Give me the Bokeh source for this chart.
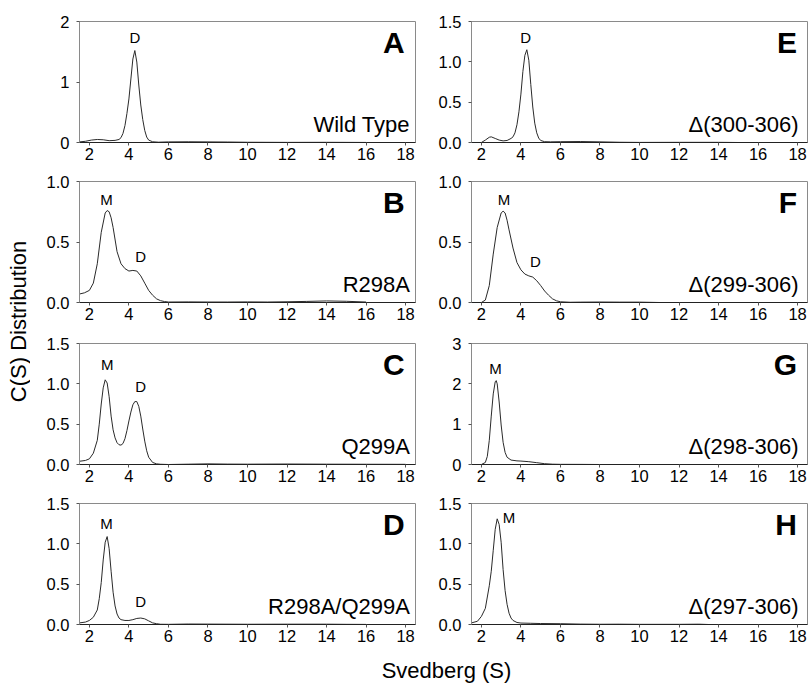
from bokeh.plotting import figure
from bokeh.models import Range1d, FixedTicker, Label
from bokeh.layouts import row, column
from bokeh.embed import file_html
from bokeh.resources import INLINE
from bokeh.core.properties import value

FONT = "Liberation Sans"

# ---------------- data ----------------
x_ticks = [2, 4, 6, 8, 10, 12, 14, 16, 18]

A_s = [1.5,1.8,2.1,2.4,2.7,3.0,3.3,3.5,3.6,3.7,3.8,3.9,4.0,4.1,4.2,4.3,4.4,4.5,4.6,4.7,4.8,4.9,5.0,5.2,5.5,6.0,7.0,8.0,9.0,10.0,12.0,14.0,16.0]
A_c = [0.01,0.02,0.04,0.05,0.045,0.03,0.035,0.05,0.08,0.15,0.28,0.48,0.72,1.05,1.38,1.52,1.33,0.95,0.62,0.38,0.20,0.09,0.04,0.012,0.005,0.01,0.012,0.01,0.008,0.004,0.002,0.003,0.001]

B_s = [1.5,1.75,2.0,2.2,2.4,2.6,2.8,2.9,3.0,3.1,3.2,3.4,3.6,3.8,4.0,4.2,4.4,4.6,4.8,5.0,5.2,5.4,5.6,5.8,6.0,7.0,8.0,9.0,10.0,11.0,12.0,13.0,14.0,15.0,16.0]
B_c = [0.07,0.08,0.10,0.16,0.32,0.58,0.74,0.76,0.75,0.70,0.62,0.42,0.32,0.28,0.26,0.265,0.26,0.22,0.16,0.10,0.06,0.03,0.015,0.008,0.004,0.005,0.004,0.004,0.005,0.004,0.006,0.009,0.013,0.01,0.004]

C_s = [1.5,1.8,2.0,2.2,2.4,2.5,2.6,2.7,2.8,2.9,3.0,3.1,3.2,3.3,3.4,3.5,3.6,3.7,3.8,3.9,4.0,4.1,4.2,4.3,4.4,4.5,4.6,4.7,4.8,4.9,5.0,5.2,5.4,5.6,6.0,7.0,8.0,9.0,10.0,12.0,14.0,16.0,18.0]
C_c = [0.04,0.05,0.07,0.14,0.30,0.50,0.75,0.95,1.05,1.01,0.84,0.60,0.43,0.33,0.27,0.245,0.24,0.26,0.32,0.42,0.54,0.65,0.74,0.78,0.78,0.72,0.60,0.44,0.29,0.17,0.09,0.025,0.008,0.003,0.0,0.004,0.008,0.005,0.004,0.006,0.004,0.003,0.002]

D_s = [1.5,1.8,2.0,2.2,2.4,2.5,2.6,2.7,2.8,2.9,3.0,3.1,3.2,3.3,3.4,3.5,3.6,3.8,4.0,4.2,4.4,4.6,4.8,5.0,5.2,5.4,5.6,6.0,7.0,8.0,10.0,12.0,14.0,15.0,16.0]
D_c = [0.02,0.03,0.05,0.09,0.18,0.32,0.52,0.80,1.02,1.09,0.94,0.66,0.40,0.23,0.13,0.08,0.06,0.05,0.05,0.06,0.075,0.08,0.07,0.045,0.02,0.01,0.003,0.002,0.006,0.005,0.003,0.004,0.004,0.002,0.001]

E_s = [2.0,2.2,2.4,2.5,2.7,2.9,3.1,3.3,3.5,3.6,3.7,3.8,3.9,4.0,4.1,4.2,4.3,4.4,4.5,4.6,4.7,4.8,4.9,5.0,5.2,5.5,6.0,7.0,8.0,9.0,10.0,12.0,14.0,15.0]
E_c = [0.0,0.03,0.065,0.07,0.05,0.03,0.02,0.025,0.05,0.07,0.12,0.22,0.38,0.60,0.88,1.08,1.15,1.02,0.72,0.44,0.24,0.12,0.055,0.025,0.01,0.008,0.01,0.012,0.008,0.003,0.001,0.002,0.002,0.0]

F_s = [2.0,2.2,2.4,2.6,2.8,3.0,3.1,3.2,3.3,3.4,3.6,3.8,4.0,4.2,4.4,4.6,4.8,5.0,5.2,5.4,5.6,5.8,6.0,6.5,7.0,8.0,9.0,10.0,11.0]
F_c = [0.0,0.02,0.14,0.40,0.62,0.74,0.755,0.74,0.68,0.60,0.45,0.33,0.27,0.235,0.22,0.21,0.18,0.14,0.095,0.06,0.03,0.014,0.006,0.002,0.003,0.004,0.003,0.003,0.0]

G_s = [2.0,2.2,2.3,2.4,2.5,2.6,2.7,2.75,2.8,2.9,3.0,3.1,3.2,3.3,3.5,3.8,4.0,4.4,4.8,5.2,5.6,6.0,7.0,8.0]
G_c = [0.0,0.05,0.2,0.6,1.2,1.75,2.05,2.08,2.0,1.55,0.98,0.55,0.30,0.18,0.11,0.09,0.085,0.07,0.045,0.02,0.008,0.004,0.003,0.0]

H_s = [1.5,1.8,2.0,2.2,2.4,2.5,2.6,2.7,2.8,2.9,3.0,3.1,3.2,3.3,3.4,3.5,3.6,3.8,4.0,4.5,5.0,6.0,7.0,8.0,9.0,10.0,12.0,13.0,13.5]
H_c = [0.02,0.04,0.10,0.20,0.48,0.66,0.92,1.18,1.31,1.24,1.02,0.68,0.42,0.25,0.14,0.08,0.05,0.025,0.018,0.015,0.012,0.01,0.005,0.003,0.004,0.002,0.002,0.004,0.0]

A_yticks, A_ylabels = [0, 1, 2], ["0", "1", "2"]
B_yticks, B_ylabels = [0, 0.5, 1.0], ["0.0", "0.5", "1.0"]
C_yticks, C_ylabels = [0, 0.5, 1.0, 1.5], ["0.0", "0.5", "1.0", "1.5"]
D_yticks, D_ylabels = [0, 0.5, 1.0, 1.5], ["0.0", "0.5", "1.0", "1.5"]
E_yticks, E_ylabels = [0, 0.5, 1.0, 1.5], ["0.0", "0.5", "1.0", "1.5"]
F_yticks, F_ylabels = [0, 0.5, 1.0], ["0.0", "0.5", "1.0"]
G_yticks, G_ylabels = [0, 1, 2, 3], ["0", "1", "2", "3"]
H_yticks, H_ylabels = [0, 0.5, 1.0, 1.5], ["0.0", "0.5", "1.0", "1.5"]

panel_letters = ["A", "B", "C", "D", "E", "F", "G", "H"]
panel_names = ["Wild Type", "R298A", "Q299A", "R298A/Q299A",
               "\u0394(300-306)", "\u0394(299-306)", "\u0394(298-306)", "\u0394(297-306)"]

# peak annotations: (text, S, C)
A_peaks = [("D", 4.3, 1.74)]
B_peaks = [("M", 2.86, 0.85), ("D", 4.6, 0.38)]
C_peaks = [("M", 2.91, 1.24), ("D", 4.6, 0.97)]
D_peaks = [("M", 2.86, 1.25), ("D", 4.6, 0.29)]
E_peaks = [("D", 4.24, 1.30)]
F_peaks = [("M", 3.14, 0.85), ("D", 4.73, 0.335)]
G_peaks = [("M", 2.71, 2.37)]
H_peaks = [("M", 3.40, 1.33)]

# ---------------- layout ----------------
row_borders = [(21, 25), (14, 25), (16, 25), (14, 25)]


def make_panel(s, c, yticks, ylabels, letter, name, peaks, col, r):
    ytop = yticks[-1]
    top, bottom = row_borders[r]
    p = figure(frame_width=336, frame_height=121,
               x_range=Range1d(1.5, 18.5), y_range=Range1d(0, ytop),
               output_backend="svg", toolbar_location=None,
               min_border_left=49 if col == 0 else 54,
               min_border_right=2,
               min_border_top=top, min_border_bottom=bottom,
               background_fill_color="white", border_fill_color="white")
    p.grid.visible = False
    p.outline_line_color = "#8a8a8a"
    p.outline_line_width = 1

    p.xaxis.ticker = FixedTicker(ticks=x_ticks)
    p.yaxis.ticker = FixedTicker(ticks=yticks)
    p.yaxis.major_label_overrides = {t: l for t, l in zip(yticks, ylabels)}
    for ax in (p.xaxis, p.yaxis):
        ax.major_tick_in = 0
        ax.major_tick_out = 3
        ax.minor_tick_line_color = None
        ax.major_label_text_font = FONT
        ax.major_label_text_font_size = "16.5px"
        ax.major_label_text_color = "black"
        ax.major_tick_line_color = "#555555"
    p.xaxis.axis_line_color = "#222222"
    p.yaxis.axis_line_color = "#8a8a8a"
    p.xaxis.major_label_standoff = 2
    p.yaxis.major_label_standoff = 7

    p.line(s, c, line_color="#2a2a2a", line_width=1)

    for t, xs, yc in peaks:
        p.add_layout(Label(x=xs, y=yc, text=t, text_font=FONT, text_font_size="15px",
                           text_align="center", text_baseline="middle", text_color="black"))

    xr = 17.95 if col == 0 else 17.97
    p.add_layout(Label(x=xr, y=ytop * 0.827, text=letter, text_font=FONT,
                       text_font_size="30px", text_font_style="bold",
                       text_align="right", text_baseline="alphabetic", text_color="black"))
    xn = 18.22 if col == 0 else 18.05
    p.add_layout(Label(x=xn, y=ytop * 0.147, text=name, text_font=FONT,
                       text_font_size="22px", text_align="right",
                       text_baseline="alphabetic", text_color="black"))
    return p


series = [
    (A_s, A_c, A_yticks, A_ylabels, A_peaks),
    (B_s, B_c, B_yticks, B_ylabels, B_peaks),
    (C_s, C_c, C_yticks, C_ylabels, C_peaks),
    (D_s, D_c, D_yticks, D_ylabels, D_peaks),
    (E_s, E_c, E_yticks, E_ylabels, E_peaks),
    (F_s, F_c, F_yticks, F_ylabels, F_peaks),
    (G_s, G_c, G_yticks, G_ylabels, G_peaks),
    (H_s, H_c, H_yticks, H_ylabels, H_peaks),
]

figs = []
for i, (s, c, yt, yl, pk) in enumerate(series):
    col = 0 if i < 4 else 1
    r = i % 4
    figs.append(make_panel(s, c, yt, yl, panel_letters[i], panel_names[i], pk, col, r))

rows = [row(figs[r], figs[r + 4]) for r in range(4)]


def blank(w, h):
    f = figure(width=w, height=h, x_range=Range1d(0, 1), y_range=Range1d(0, 1),
               output_backend="svg", toolbar_location=None,
               min_border=0, min_border_left=0, min_border_right=0,
               min_border_top=0, min_border_bottom=0)
    f.axis.visible = False
    f.grid.visible = False
    f.outline_line_color = None
    return f


ytitle = blank(30, 685)
ytitle.text(x=[18 / 30], y=[1 - 321 / 685], text=["C(S) Distribution"], angle=1.5707963,
            text_font=value(FONT), text_font_size="22px", text_align="center",
            text_baseline="middle", text_color="black")

xtitle = blank(779, 36)
xtitle.text(x=[(446 - 30) / 779], y=[1 - 21 / 36], text=["Svedberg (S)"],
            text_font=value(FONT), text_font_size="22px", text_align="center",
            text_baseline="middle", text_color="black")

layout = row(ytitle, column(*rows, xtitle))

open("out.html", "w").write(file_html(layout, INLINE))
